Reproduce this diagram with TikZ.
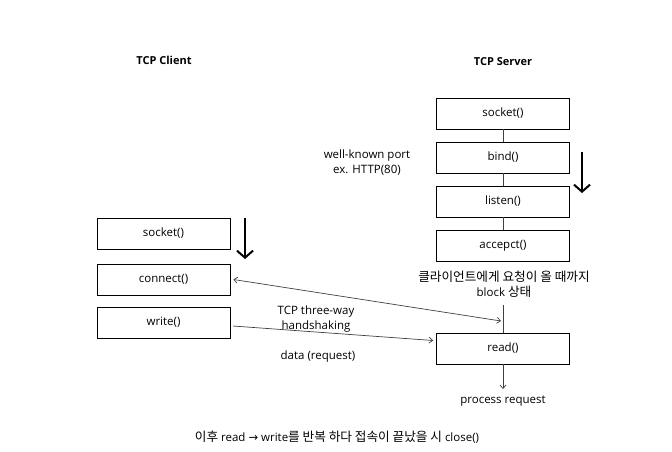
\documentclass[tikz,border=0pt]{standalone}
\usepackage{fontspec}
\setmainfont{Open Sans}
\newfontfamily\cjk[Scale=1.1]{Noto Sans CJK KR}
\newfontfamily\symf{DejaVu Sans}
\usetikzlibrary{arrows.meta}
\begin{document}
\begin{tikzpicture}[x=1pt,y=-1pt,
  box/.style={draw=black,line width=0.8pt,minimum width=133pt,minimum height=31pt,inner sep=0pt,font=\fontsize{11.5}{13}\selectfont},
  lbl/.style={font=\fontsize{11.5}{15}\selectfont,align=center,inner sep=0pt},
  ttl/.style={font=\fontsize{11}{12}\selectfont\bfseries,inner sep=0pt},
  conn/.style={draw=black!75,line width=0.7pt},
  tip/.style={-{Straight Barb[length=3.5pt,width=6pt]}},
  big/.style={line width=2pt,-{Straight Barb[length=7pt,width=16pt,line width=2pt]}}]
\useasboundingbox (0,0) rectangle (672,451);
\node[ttl] (tc) at (164,60) {TCP Client};
\node[ttl] (ts) at (503,62) {TCP Server};
% server
\node[box] (ssock) at (503,113.5) {socket()};
\node[box] (sbind) at (503,157.5) {bind()};
\node[box] (slist) at (503,201.5) {listen()};
\node[box] (sacc) at (503,245.5) {accepct()};
\node[box] (sread) at (503,348.5) {read()};
\draw[conn] (ssock) -- (sbind);
\draw[conn] (sbind) -- (slist);
\draw[conn] (slist) -- (sacc);
\node[lbl] (wk) at (367,163) {well-known port\\ex. HTTP(80)};
\node[lbl] (blk) at (504,284) {{\cjk 클라이언트에게 요청이 올 때까지}\\block {\cjk 상태}};
\coordinate (rtop) at (503,305);
\draw[conn] (rtop) -- (sread.north);
\node[lbl] (proc) at (503,401) {process request};
\draw[conn,tip] (sread.south) -- (503,389);
\coordinate (sb1) at (582,152);
\coordinate (sb2) at (582,193);
\draw[big] (sb1) -- (sb2);
% client
\node[box] (csock) at (163.5,233.5) {socket()};
\node[box] (ccon) at (163.5,279.5) {connect()};
\node[box] (cwr) at (163.5,322.5) {write()};
\coordinate (cb1) at (245,218);
\coordinate (cb2) at (245,259);
\draw[big] (cb1) -- (cb2);
% messages
\coordinate (hs) at (501,321);
\draw[conn,{Straight Barb[length=3.5pt,width=6pt]}-{Straight Barb[length=3.5pt,width=6pt]}] ([xshift=3pt]ccon.east) -- (hs);
\coordinate (wstart) at (233,326);
\draw[conn,tip] (wstart) -- ([xshift=-3pt,yshift=8pt]sread.west);
\node[lbl] (thw) at (316,319) {TCP three-way\\handshaking};
\node[lbl] (dr) at (318,357) {data (request)};
\node[lbl] (foot) at (337,437) {{\cjk 이후} read {\symf →} write{\cjk 를 반복 하다 접속이 끝났을 시} close()};
\end{tikzpicture}
\end{document}
